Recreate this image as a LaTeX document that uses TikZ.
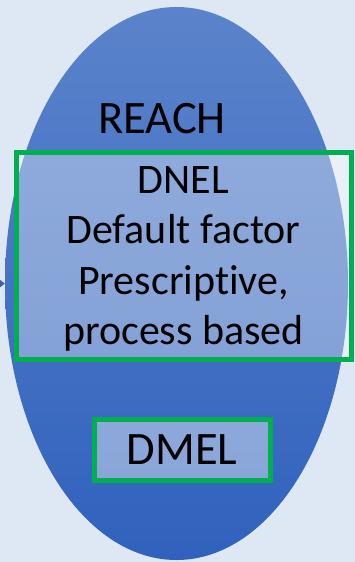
\documentclass[tikz,border=0pt]{standalone}
\usepackage{fontspec}
\setmainfont{Carlito}[Ligatures=NoCommon]
\usetikzlibrary{shapes.geometric,arrows.meta}
\definecolor{bgc}{HTML}{DEE8F4}
\definecolor{elltop}{HTML}{5B83CB}
\definecolor{ellbot}{HTML}{3062BD}
\definecolor{grn}{HTML}{00B050}
\definecolor{arrc}{HTML}{3C5FA8}
\tikzset{
  gbox/.style={draw=grn, line width=5pt, fill=white, fill opacity=0.36, text opacity=1, inner sep=0pt},
  bigtxt/.style={font=\fontsize{46.5}{50}\selectfont, text=black, inner sep=0pt},
  boxtxt/.style={font=\fontsize{42}{50.5}\selectfont, align=center, inner sep=0pt},
}
\begin{document}
\begin{tikzpicture}[x=1pt,y=-1pt]
\useasboundingbox (0,0) rectangle (355,562);
\fill[bgc] (0,0) rectangle (355,562);
\node[ellipse, minimum width=343pt, minimum height=553pt, inner sep=0pt,
      top color=elltop, bottom color=ellbot, draw=none] (reach) at (176.5,283.5) {};
\coordinate (src) at (-30,284);
\draw[arrc, line width=2pt, -{Stealth[length=9pt,width=14pt]}] (src) -- (reach.west);
\node[bigtxt, anchor=base] (title) at (162,133) {REACH};
\node[gbox, minimum width=335pt, minimum height=207pt] (dnel) at (183.5,256) {};
\node[boxtxt, yshift=-3pt] (dneltxt) at (dnel.center)
  {DNEL\\Default factor\\Prescriptive,\\process based};
\node[gbox, bigtxt, minimum width=176pt, minimum height=61pt, fill opacity=0.42] (dmel) at (182,450) {DMEL};
\end{tikzpicture}
\end{document}
